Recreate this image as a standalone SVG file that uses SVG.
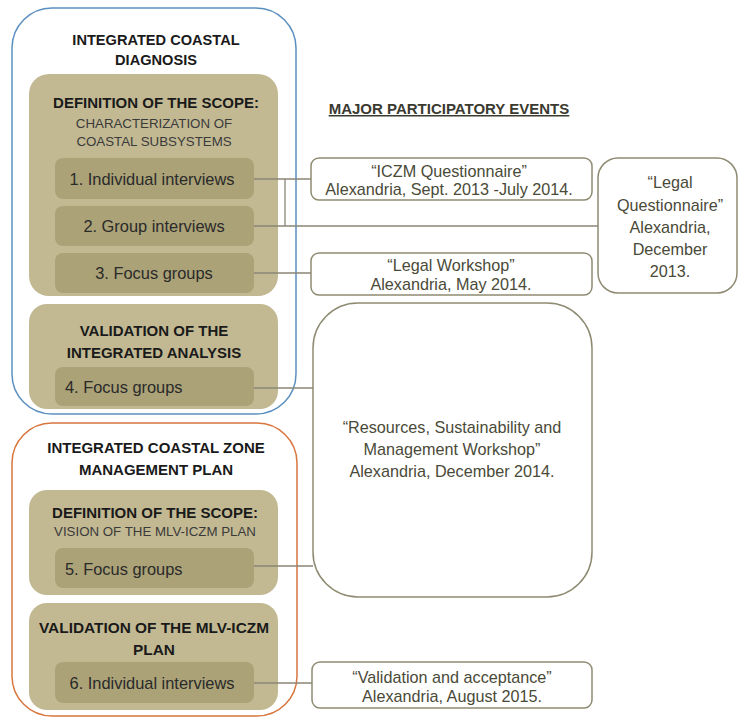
<svg xmlns="http://www.w3.org/2000/svg" width="738" height="719" viewBox="0 0 738 719">
<style>
.t{font-family:"Liberation Sans",Arial,sans-serif;text-anchor:middle}
.h{font-weight:bold;font-size:15px;fill:#1a1a1a}
.s{font-size:13.3px;fill:#3a3a3a}
.i{font-size:16.4px;fill:#2a2a2a}
.e{font-size:16.2px;fill:#4a4a38}
.tan{fill:#c2b993}
.inner{fill:#aba277}
.ev{fill:#fff;stroke:#8e8b72;stroke-width:1.5}
.c{stroke:#8a8775;stroke-width:1.3;fill:none}
</style>
<rect width="738" height="719" fill="#fff"/>
<g id="diagnosis">
<rect x="12" y="8" width="284" height="406" rx="40" fill="none" stroke="#5b8fc0" stroke-width="1.5"/>
<text class="t h" x="156" y="45" style="font-size:14.6px">INTEGRATED COASTAL</text>
<text class="t h" x="156" y="65" style="font-size:14.6px">DIAGNOSIS</text>
</g>
<g id="scope1">
<rect class="tan" x="29" y="74" width="249" height="222" rx="20"/>
<text class="t h" x="156" y="108">DEFINITION OF THE SCOPE:</text>
<text class="t s" x="154" y="128">CHARACTERIZATION OF</text>
<text class="t s" x="154" y="146">COASTAL SUBSYSTEMS</text>
</g>
<g id="n1"><rect class="inner" x="55" y="158" width="199" height="41" rx="8"/><text class="t i" x="152" y="185">1. Individual interviews</text></g>
<g id="n2"><rect class="inner" x="55" y="206" width="199" height="40" rx="8"/><text class="t i" x="154" y="232">2. Group interviews</text></g>
<g id="n3"><rect class="inner" x="55" y="253" width="199" height="40" rx="8"/><text class="t i" x="154" y="279">3. Focus groups</text></g>
<g id="valid1">
<rect class="tan" x="29" y="304" width="249" height="105" rx="18"/>
<text class="t h" x="154" y="336">VALIDATION OF THE</text>
<text class="t h" x="154" y="358">INTEGRATED ANALYSIS</text>
</g>
<g id="n4"><rect class="inner" x="55" y="367" width="199" height="39" rx="8"/><text class="t i" x="65" y="393" style="text-anchor:start">4. Focus groups</text></g>
<g id="plan">
<rect x="12" y="423" width="285" height="293" rx="40" fill="none" stroke="#d8763e" stroke-width="1.5"/>
<text class="t h" x="156" y="453">INTEGRATED COASTAL ZONE</text>
<text class="t h" x="156" y="475">MANAGEMENT PLAN</text>
</g>
<g id="scope2">
<rect class="tan" x="29" y="490" width="249" height="105" rx="18"/>
<text class="t h" x="155" y="518">DEFINITION OF THE SCOPE:</text>
<text class="t s" x="155" y="536">VISION OF THE MLV-ICZM PLAN</text>
</g>
<g id="n5"><rect class="inner" x="55" y="548" width="199" height="40" rx="8"/><text class="t i" x="65" y="575" style="text-anchor:start">5. Focus groups</text></g>
<g id="valid2">
<rect class="tan" x="29" y="603" width="249" height="107" rx="18"/>
<text class="t h" x="154" y="633" style="font-size:15.4px">VALIDATION OF THE MLV-ICZM</text>
<text class="t h" x="154" y="655" style="font-size:15.4px">PLAN</text>
</g>
<g id="n6"><rect class="inner" x="55" y="662" width="199" height="41" rx="8"/><text class="t i" x="152" y="689">6. Individual interviews</text></g>
<text class="t" x="449" y="114" style="font-weight:bold;font-size:15px;fill:#3a3a30;text-decoration:underline">MAJOR PARTICIPATORY EVENTS</text>
<g id="connectors">
<path class="c" d="M254 179H311M285 179V226M254 226H598M254 273H311M254 388H313M254 566H313M254 683H312"/>
</g>
<g id="e1"><rect class="ev" x="311" y="158" width="281" height="42" rx="8"/><text class="t e" x="449" y="177">“ICZM Questionnaire”</text><text class="t e" x="449" y="195">Alexandria, Sept. 2013 -July 2014.</text></g>
<g id="e2"><rect class="ev" x="311" y="253" width="281" height="42" rx="8"/><text class="t e" x="451" y="271">“Legal Workshop”</text><text class="t e" x="451" y="290">Alexandria, May 2014.</text></g>
<g id="e3"><rect class="ev" x="598" y="158" width="139" height="135" rx="20"/><text class="t e" x="670" y="188">“Legal</text><text class="t e" x="670" y="211">Questionnaire”</text><text class="t e" x="670" y="233">Alexandria,</text><text class="t e" x="670" y="255">December</text><text class="t e" x="670" y="277">2013.</text></g>
<g id="e4"><rect class="ev" x="313" y="303" width="279" height="294" rx="45"/><text class="t e" x="452" y="433">“Resources, Sustainability and</text><text class="t e" x="452" y="455">Management Workshop”</text><text class="t e" x="452" y="477">Alexandria, December 2014.</text></g>
<g id="e5"><rect class="ev" x="312" y="662" width="280" height="46" rx="8"/><text class="t e" x="452" y="683">“Validation and acceptance”</text><text class="t e" x="452" y="702">Alexandria, August 2015.</text></g>
</svg>
